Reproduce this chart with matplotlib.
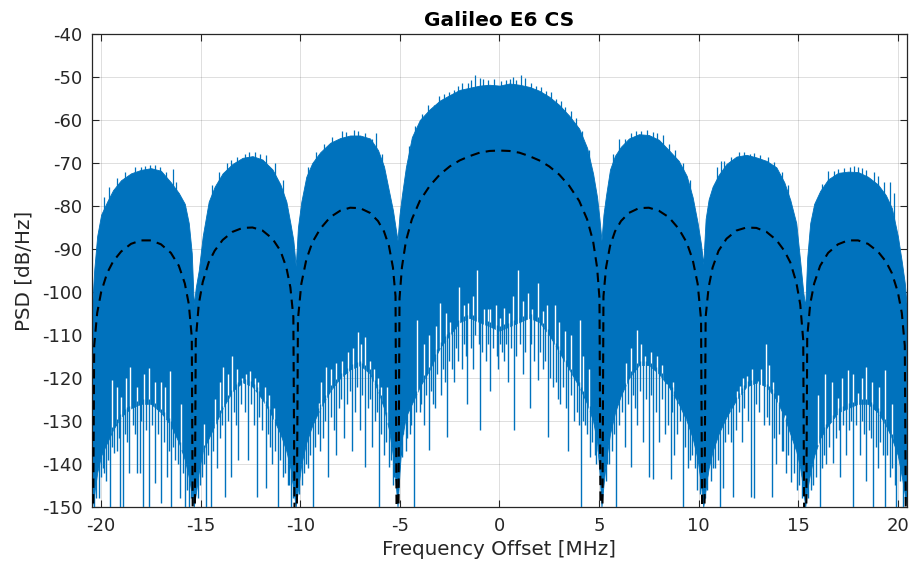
import numpy as np
import matplotlib
matplotlib.use("Agg")
import matplotlib.pyplot as plt

# Frequency grid of the envelope readings (MHz)
freq_mhz = [
    -20.46, -20.35, -20.2, -20.0, -19.7, -19.4, -19.0, -18.5, -18.0, -17.5, -17.0, -16.5, -16.1, -15.8, -15.6, -15.45, -15.35,
    -15.25, -15.1, -14.9, -14.6, -14.3, -13.9, -13.4, -12.9, -12.4, -11.9, -11.4, -11.0, -10.7, -10.5, -10.35, -10.23,
    -10.12, -9.95, -9.7, -9.4, -9.0, -8.5, -8.0, -7.5, -7.0, -6.5, -6.1, -5.8, -5.55, -5.35, -5.22, -5.12,
    -5.02, -4.9, -4.7, -4.4, -4.0, -3.5, -3.0, -2.5, -2.0, -1.5, -1.0, -0.5, 0.0,
    0.5, 1.0, 1.5, 2.0, 2.5, 3.0, 3.5, 4.0, 4.4, 4.7, 4.9, 5.02, 5.12,
    5.22, 5.35, 5.55, 5.8, 6.1, 6.5, 7.0, 7.5, 8.0, 8.5, 9.0, 9.4, 9.7, 9.95, 10.12, 10.23,
    10.35, 10.5, 10.7, 11.0, 11.4, 11.9, 12.4, 12.9, 13.4, 13.9, 14.3, 14.6, 14.9, 15.1, 15.25, 15.35,
    15.45, 15.6, 15.8, 16.1, 16.5, 17.0, 17.5, 18.0, 18.5, 19.0, 19.4, 19.7, 20.0, 20.2, 20.35, 20.46,
]

# Upper edge of the measured spectrum (dB/Hz)
psd_top_db = [
    -104, -95, -87, -82, -79, -76.3, -74, -72.4, -71.6, -71.2, -71.8, -74.5, -77, -79.5, -84, -91, -103,
    -99, -95, -87, -79, -75.5, -72.4, -70.2, -68.8, -68.4, -69.2, -71.5, -75, -79, -84, -88, -94,
    -85, -79, -73.2, -70, -67.5, -65.3, -64.2, -63.6, -63.6, -64.3, -67, -70.8, -76.5, -81, -85, -88,
    -82, -77.5, -71, -64, -60, -57.5, -55.5, -54.2, -53, -52.5, -52, -51.8, -52,
    -51.5, -51.8, -52.3, -53.2, -54.6, -56.5, -59, -62, -66.5, -72.5, -78, -83, -88,
    -82, -77.5, -71.5, -68.3, -66.2, -64.3, -63.3, -63.5, -64.6, -67, -69.5, -73, -78, -84, -89, -93.5,
    -83, -78.5, -75.5, -72.8, -70.2, -68.5, -68.1, -68.7, -69.5, -71, -74.5, -78.6, -84, -93, -100, -103.4,
    -92, -84, -79.5, -76.5, -73.8, -72.3, -72, -72.1, -73.2, -75, -77.5, -80.5, -87, -93, -98, -104,
]

# Lower edge of the solid part of the spectrum (dB/Hz)
psd_floor_db = [
    -150, -147, -142, -138, -135, -132, -129, -127, -126, -126, -128, -131, -135, -139, -143, -147, -150,
    -147, -142, -137, -134, -131, -127, -123, -121, -122, -125, -129, -133, -137, -141, -146, -150,
    -146, -140, -135, -131, -127, -123, -120, -118, -117, -119, -123, -127, -132, -138, -144, -150,
    -142, -134, -129, -126, -122, -118, -113, -110, -107, -106, -107, -108, -109,
    -108, -107, -106, -107, -110, -114, -118, -122, -126, -130, -135, -142, -150,
    -145, -139, -133, -128, -124, -120, -117, -117, -119, -122, -126, -130, -134, -139, -145, -150,
    -146, -141, -137, -133, -129, -125, -122, -121, -122, -125, -129, -133, -137, -141, -146, -150,
    -146, -142, -138, -134, -131, -128, -127, -126, -126, -128, -131, -134, -138, -143, -147, -150,
]

# Theoretical BPSK(5) envelope (dB/Hz); nulls lie below the axis
bpsk_theory_db = [
    -200, -112.5, -104.9, -100, -95.6, -92.9, -90.6, -88.8, -88.0, -88.0, -88.9, -90.9, -93.9, -98, -102.8, -110.5, -200,
    -111.2, -102.9, -97.7, -93.1, -90.4, -87.9, -86.0, -85.1, -85.0, -85.7, -87.6, -90.4, -94.3, -98.9, -105.8, -200,
    -106.4, -98.1, -92.5, -88.5, -85.3, -82.6, -81.1, -80.4, -80.5, -81.6, -83.5, -85.9, -89.3, -94.3, -101, -200,
    -101.5, -94.3, -88.2, -83.1, -78.8, -75.3, -72.7, -70.8, -69.4, -68.4, -67.6, -67.2, -67.1,
    -67.2, -67.6, -68.4, -69.4, -70.8, -72.7, -75.3, -78.8, -83.1, -88.2, -94.3, -101.5, -200,
    -101, -94.3, -89.3, -85.9, -83.5, -81.6, -80.5, -80.4, -81.1, -82.6, -85.3, -88.5, -92.5, -98.1, -106.4, -200,
    -105.8, -98.9, -94.3, -90.4, -87.6, -85.7, -85.0, -85.1, -86.0, -87.9, -90.4, -93.1, -97.7, -102.9, -111.2, -200,
    -110.5, -102.8, -98, -93.9, -90.9, -88.9, -88.0, -88.0, -88.8, -90.6, -92.9, -95.6, -100, -104.9, -112.5, -200,
]

# Spectral dips hanging below the solid part: (MHz, dB/Hz)
dips = [
    # outer lobe, negative side
    (-20.36, -150), (-20.25, -148), (-20.1, -148), (-20.0, -143), (-19.9, -141), (-19.85, -142), (-19.75, -144),
    (-19.65, -139), (-19.55, -150), (-19.45, -136), (-19.38, -137.5), (-19.2, -137), (-19.1, -134), (-19.05, -150),
    (-18.9, -150), (-18.8, -133), (-18.7, -135), (-18.6, -142), (-18.4, -131), (-18.3, -133), (-18.18, -142),
    (-18.06, -142), (-17.98, -130), (-17.9, -150), (-17.75, -132), (-17.6, -150), (-17.45, -131), (-17.28, -144.5),
    (-17.15, -133), (-16.98, -149), (-16.85, -135), (-16.7, -143), (-16.6, -137), (-16.5, -150), (-16.4, -136),
    (-16.28, -139), (-16.15, -140), (-16.03, -148), (-15.9, -142), (-15.78, -150), (-15.7, -146), (-15.6, -150),
    (-15.5, -148),
    # second lobe, negative side
    (-15.15, -148), (-15.05, -145), (-14.95, -143), (-14.85, -140), (-14.75, -150), (-14.65, -138), (-14.5, -150),
    (-14.4, -137), (-14.2, -141), (-14.05, -134), (-13.95, -131), (-13.77, -147.7), (-13.65, -130), (-13.5, -143),
    (-13.35, -128), (-13.25, -131), (-13.14, -139), (-13.0, -126), (-12.8, -128), (-12.64, -139), (-12.5, -126),
    (-12.35, -131), (-12.2, -147.7), (-12.05, -129), (-11.9, -132), (-11.74, -145.7), (-11.6, -133), (-11.5, -136),
    (-11.4, -140), (-11.25, -137), (-11.12, -150), (-11.0, -139), (-10.85, -143), (-10.75, -142), (-10.6, -145),
    (-10.55, -145), (-10.45, -150), (-10.35, -148),
    # first lobe, negative side
    (-10.05, -147), (-9.9, -145), (-9.8, -142), (-9.7, -140), (-9.6, -141), (-9.5, -138), (-9.36, -150),
    (-9.25, -136), (-9.1, -133), (-9.0, -137), (-8.85, -134), (-8.75, -130), (-8.6, -143), (-8.45, -129),
    (-8.3, -132), (-8.2, -138), (-8.05, -127), (-7.95, -125), (-7.8, -134), (-7.65, -126), (-7.5, -123),
    (-7.4, -137), (-7.25, -128), (-7.15, -122), (-7.0, -132), (-6.9, -124), (-6.73, -140.7), (-6.6, -127),
    (-6.5, -125), (-6.4, -136), (-6.25, -130), (-6.15, -128), (-6.06, -150), (-5.95, -133), (-5.8, -138),
    (-5.7, -135), (-5.56, -140.7), (-5.45, -139), (-5.35, -145), (-5.3, -143),
    # main lobe
    (-4.96, -138), (-4.89, -138.3), (-4.82, -133), (-4.7, -137), (-4.62, -134), (-4.5, -133), (-4.42, -131),
    (-4.31, -150), (-4.2, -128), (-4.0, -128), (-3.92, -126), (-3.8, -131), (-3.7, -124), (-3.55, -136.8),
    (-3.45, -123), (-3.35, -126), (-3.25, -127), (-3.12, -119), (-2.95, -124), (-2.85, -118), (-2.72, -121),
    (-2.63, -133.7), (-2.55, -116), (-2.4, -118), (-2.3, -121), (-2.18, -113), (-2.1, -116), (-1.9, -118),
    (-1.78, -112), (-1.7, -115), (-1.63, -126), (-1.45, -113), (-1.35, -118), (-1.25, -110), (-1.05, -112),
    (-0.96, -132), (-0.88, -114), (-0.7, -116), (-0.6, -112), (-0.46, -123), (-0.35, -113), (-0.15, -115),
    (-0.06, -118), (0.05, -112), (0.15, -114), (0.25, -116), (0.35, -112), (0.45, -121), (0.6, -113),
    (0.75, -132), (0.85, -115), (1.05, -112), (1.2, -119), (1.3, -114), (1.51, -127), (1.6, -112),
    (1.75, -116), (1.95, -120.5), (2.05, -114), (2.2, -118), (2.3, -116), (2.43, -133.7), (2.55, -120),
    (2.7, -122), (2.85, -121), (2.95, -125), (3.05, -126), (3.2, -122), (3.35, -127), (3.44, -137),
    (3.6, -124), (3.75, -130), (3.9, -128), (4.0, -131), (4.1, -150), (4.2, -130), (4.3, -131),
    (4.4, -133), (4.52, -138.3), (4.62, -135), (4.77, -138), (4.85, -140), (4.95, -136),
    # first lobe, positive side
    (5.28, -141.5), (5.35, -144), (5.42, -140), (5.5, -140), (5.65, -137), (5.75, -133), (5.86, -150),
    (6.0, -131), (6.15, -128), (6.28, -136), (6.45, -126), (6.6, -140.7), (6.7, -124), (6.8, -127),
    (6.9, -131), (7.05, -123), (7.2, -135), (7.35, -125), (7.5, -143), (7.6, -124), (7.72, -143.4),
    (7.85, -128), (8.0, -135), (8.15, -125), (8.3, -133), (8.45, -131), (8.59, -143.6), (8.65, -128),
    (8.76, -138), (8.9, -133), (9.05, -130), (9.21, -150), (9.3, -136), (9.45, -141), (9.55, -139),
    (9.67, -137.8), (9.8, -141), (9.9, -146), (10.05, -147),
    # second lobe, positive side
    (10.3, -148), (10.4, -146), (10.51, -135), (10.6, -144), (10.7, -141), (10.8, -141), (10.95, -139),
    (11.06, -150), (11.2, -145.5), (11.3, -135), (11.45, -133), (11.6, -135), (11.7, -147.7), (11.85, -132),
    (12.0, -128), (12.18, -135), (12.3, -127), (12.5, -130), (12.65, -147.7), (12.77, -148), (12.9, -126),
    (13.05, -128), (13.27, -131), (13.45, -129), (13.55, -131), (13.66, -147.7), (13.8, -134), (13.9, -140),
    (14.05, -133), (14.16, -137), (14.25, -137), (14.4, -142), (14.5, -138), (14.66, -144.2), (14.8, -142),
    (14.95, -146), (15.05, -145), (15.2, -148),
    # outer lobe, positive side
    (15.5, -148), (15.53, -138.8), (15.65, -146), (15.75, -145), (15.9, -143), (16.08, -150), (16.2, -141),
    (16.3, -138), (16.4, -140), (16.55, -136), (16.75, -139.8), (16.9, -134), (17.05, -132), (17.1, -143),
    (17.25, -131), (17.4, -138), (17.55, -132), (17.65, -130), (17.75, -150), (17.9, -131), (18.09, -138),
    (18.2, -130), (18.3, -133), (18.4, -144), (18.55, -132), (18.65, -134), (18.76, -150), (18.9, -136),
    (19.0, -141), (19.1, -135), (19.25, -138), (19.34, -150), (19.45, -138), (19.6, -143), (19.7, -141),
    (19.84, -145), (19.93, -150), (20.1, -144), (20.25, -150), (20.35, -148),
]

# Narrow gaps reaching up into the solid part: (MHz, dB/Hz)
gaps = [
    (-19.46, -120.5), (-19.2, -122), (-18.98, -124.4), (-18.75, -120), (-18.54, -117.4), (-18.2, -122),
    (-17.85, -119), (-17.62, -117.7), (-17.3, -121), (-17.0, -121), (-16.8, -122), (-16.53, -118.4), (-16.0, -126),
    (-14.86, -130.6), (-14.3, -125), (-14.05, -121), (-13.86, -117.4), (-13.65, -119), (-13.44, -115),
    (-13.2, -118), (-12.95, -120), (-12.75, -119), (-12.52, -118.4), (-12.3, -120), (-12.1, -121),
    (-11.77, -122), (-11.55, -124), (-11.3, -127),
    (-9.04, -125.9), (-8.95, -121), (-8.7, -117.5), (-8.45, -118), (-8.2, -116.5), (-7.9, -116), (-7.6, -114),
    (-7.35, -113), (-7.11, -109.2), (-6.95, -112), (-6.73, -110.4), (-6.5, -116), (-6.3, -118), (-6.1, -120),
    (-5.95, -122), (-5.64, -122),
    (-4.14, -106.5), (-3.8, -112), (-3.55, -110), (-3.2, -108), (-2.97, -102.6), (-2.7, -105), (-2.47, -107),
    (-2.05, -98.8), (-1.8, -103), (-1.57, -102.6), (-1.35, -101), (-1.13, -94.9), (-0.8, -104), (-0.6, -104),
    (-0.46, -104), (-0.2, -103), (0.05, -106), (0.23, -103.7), (0.5, -105), (0.7, -101), (0.94, -94.9),
    (1.2, -102), (1.41, -100.3), (1.65, -104), (1.93, -98), (2.18, -104.4), (2.4, -103), (2.78, -103),
    (3.0, -107), (3.3, -109), (3.6, -110), (4.02, -106.5), (4.2, -115), (4.5, -118),
    (6.36, -116.5), (6.6, -113), (6.92, -108.9), (7.1, -112), (7.33, -115), (7.6, -114), (7.92, -115),
    (8.15, -117), (8.42, -121.3), (8.7, -121), (8.92, -125), (9.3, -130),
    (11.6, -127), (11.9, -123), (12.1, -121.9), (12.25, -120), (12.43, -119.6), (12.7, -118), (12.98, -120.6),
    (13.15, -118), (13.36, -112), (13.55, -117), (13.74, -121), (14.0, -124), (14.33, -128.6),
    (16.0, -124), (16.33, -119), (16.7, -121), (17.0, -124.6), (17.2, -120), (17.5, -118.2), (17.75, -119),
    (18.0, -123.6), (18.2, -120), (18.42, -117.4), (18.7, -121), (19.05, -122), (19.34, -118.2), (19.7, -126),
]

# Short peaks above the upper edge: (MHz, dB/Hz)
peaks = [
    (-19.85, -78), (-19.6, -75.5), (-19.2, -73.5), (-18.8, -72), (-18.3, -71), (-18.0, -70.9), (-17.8, -70.8),
    (-17.55, -70.5), (-17.3, -70.5), (-17.05, -71), (-16.75, -72), (-16.4, -71.5), (-16.25, -74.5),
    (-14.45, -75), (-14.1, -72), (-13.7, -70), (-13.5, -69.4), (-13.2, -68.5), (-12.8, -67.8), (-12.6, -67.5),
    (-12.3, -67.5), (-12.0, -67.8), (-11.7, -68.2), (-11.25, -70), (-10.85, -74),
    (-9.6, -71), (-9.2, -67.5), (-8.8, -65.5), (-8.4, -64), (-7.9, -62.5), (-7.7, -62.8), (-7.3, -62.3),
    (-7.1, -62.6), (-6.75, -63), (-6.4, -64.5), (-6.2, -63), (-5.9, -68),
    (-4.55, -66), (-4.25, -61.5), (-3.9, -58.5), (-3.6, -56.5), (-3.3, -56.5), (-3.05, -54.5), (-2.8, -54),
    (-2.55, -53.5), (-2.3, -53), (-2.1, -52), (-1.9, -51.5), (-1.6, -51.3), (-1.45, -50.8), (-1.23, -49.6),
    (-1.0, -50.2), (-0.85, -50.5), (-0.6, -50.8), (-0.3, -50.5), (0.1, -51), (0.35, -50.6), (0.55, -50.4),
    (0.7, -50.0), (0.85, -50.8), (1.1, -49.6), (1.3, -50.3), (1.6, -51.5), (1.85, -52), (2.1, -52.3),
    (2.35, -53.3), (2.6, -53.5), (2.85, -55), (3.1, -55.5), (3.3, -57), (3.6, -57.8), (3.85, -59.5),
    (4.15, -62.5), (4.5, -67),
    (5.7, -68), (6.0, -64.5), (6.3, -64.5), (6.6, -63), (6.85, -62.5), (7.1, -62.5), (7.4, -62.4),
    (7.7, -62.8), (7.9, -63), (8.2, -63.5), (8.5, -65.6), (8.8, -67), (9.2, -70), (9.55, -74),
    (10.9, -71), (11.1, -69.5), (11.25, -69.5), (11.6, -68.5), (12.0, -67.5), (12.3, -67.5), (12.6, -67.9),
    (12.8, -67.7), (13.1, -68.2), (13.5, -68.6), (13.8, -69.8), (14.2, -72), (14.5, -75),
    (16.2, -74.8), (16.5, -71.8), (16.8, -71.8), (17.0, -71.4), (17.3, -71.2), (17.6, -71), (17.8, -70.8),
    (18.0, -71), (18.2, -71.2), (18.4, -71.6), (18.8, -72), (19.0, -73), (19.3, -74.5), (19.6, -74.5),
    (19.8, -77),
]

x_ticks = [-20, -15, -10, -5, 0, 5, 10, 15, 20]
y_ticks = [-150, -140, -130, -120, -110, -100, -90, -80, -70, -60, -50, -40]

plt.rcParams['axes.unicode_minus'] = False
plt.rcParams['font.family'] = ['DejaVu Sans']

blue = '#0072BD'
dark = '#262626'

fig = plt.figure(figsize=(9.09, 5.65), dpi=100)
ax = fig.add_axes([0.1012, 0.1027, 0.8966, 0.8371])

f = np.asarray(freq_mhz)
floor = np.asarray(psd_floor_db)
top = np.asarray(psd_top_db)

# solid body of the spectrum
ax.fill_between(f, floor, top, facecolor=blue, edgecolor=blue, lw=0.6, zorder=2)

# gaps opening upward from the lower edge
g_f, g_db = np.array(gaps).T
g_base = np.interp(g_f, f, floor)
ax.vlines(g_f, g_base - 0.3, g_db, colors='white', lw=1.0, zorder=3)

# dips hanging below the lower edge
d_f, d_db = np.array(dips).T
d_base = np.interp(d_f, f, floor)
ax.vlines(d_f, d_db, d_base + 1.0, colors=blue, lw=1.0, zorder=4)

# peaks rising above the upper edge
p_f, p_db = np.array(peaks).T
p_base = np.interp(p_f, f, top)
ax.vlines(p_f, p_base - 1.0, p_db, colors=blue, lw=0.9, zorder=4)

# theoretical envelope
ax.plot(f, bpsk_theory_db, color='black', ls=(0, (4.5, 3.0)), lw=1.5, zorder=5)

ax.set_xlim(-20.46, 20.46)
ax.set_ylim(-150, -40)
ax.set_xticks(x_ticks)
ax.set_yticks(y_ticks)
ax.set_axisbelow(True)
ax.grid(True, color=dark, alpha=0.15, lw=0.7)
ax.tick_params(direction='in', length=5, width=0.8, top=True, right=True,
               labelsize=13, colors=dark, pad=7)
for sp in ax.spines.values():
    sp.set_color(dark)
    sp.set_linewidth(0.9)

ax.set_xlabel('Frequency Offset [MHz]', fontsize=14.3, color=dark, labelpad=4)
ax.set_ylabel('PSD [dB/Hz]', fontsize=14.3, color=dark, labelpad=6)
ax.set_title('Galileo E6 CS', fontsize=14.5, fontweight='bold', color='black', pad=6)

fig.savefig('out.png', dpi=100)
